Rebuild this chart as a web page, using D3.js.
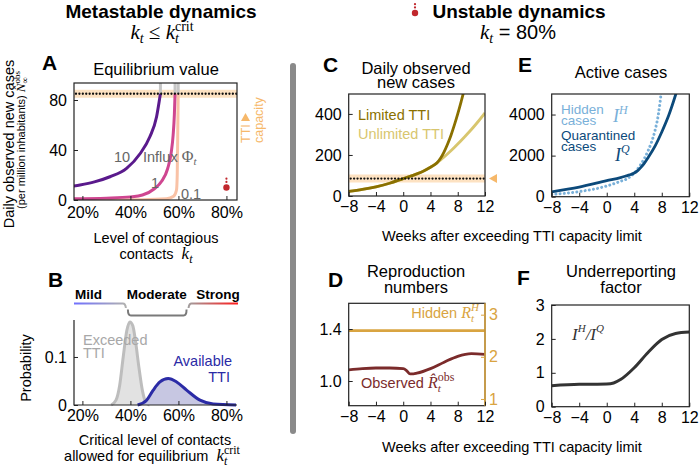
<!DOCTYPE html>
<html lang="en">
<head>
<meta charset="UTF-8">
<title>TTI capacity</title>
<script src="https://cdnjs.cloudflare.com/ajax/libs/d3/7.8.5/d3.min.js"></script>
<style>
  body { margin: 0; background: #fff; }
  svg { display: block; font-family: "Liberation Sans", Arial, sans-serif; }
  text { white-space: pre; }
</style>
</head>
<body>
<svg width="700" height="468"></svg>
<script>

// ---------- data ----------
// A: equilibrium observed cases vs level of contacts (k in %), one curve per influx
var influx10K = [16, 19, 25, 31.5, 38.4, 44, 48.1, 50.9, 52.3, 52.5];
var influx10N = [11, 12, 14.5, 18.6, 25.3, 37, 50.6, 66.6, 82.6, 85];
var influx1K = [16, 30, 40, 45, 50, 53, 55.5, 57, 57.8, 58.3, 58.6];
var influx1N = [1, 1.5, 2.5, 4, 9, 15, 25, 38, 52, 68, 85];
var influx01K = [16, 45, 55, 58, 59.2, 59.5, 59.7, 59.9];
var influx01N = [0.1, 0.3, 1, 3, 8, 20, 50, 85];
var ttiCapacity = 85;
var unstableK = 80, unstableN = 10;

// B: distribution of critical contact level (k in %)
var exceededK = [32, 34, 35.5, 37, 38.5, 39.8, 41, 42.2, 43.5, 45, 46.5, 48];
var exceededP = [0, 0.01, 0.04, 0.10, 0.155, 0.173, 0.165, 0.13, 0.08, 0.03, 0.005, 0];
var availableK = [43, 46.75, 49.5, 52.3, 55.75, 59.25, 63.4, 69, 74.5, 84];
var availableP = [0, 0.01, 0.031, 0.048, 0.055, 0.048, 0.031, 0.010, 0.002, 0];
var regimeEdges = [37.7, 63.8];   // Mild | Moderate | Strong

// C: daily observed new cases
var weeksC = [-8, -6, -4, -2, 0, 2, 3, 4, 4.5, 5, 5.5, 6, 6.5, 7, 7.5, 8, 8.5, 9, 9.5];
var limitedTTI = [22, 32, 45, 62, 85, 108, 122, 140, 150, 163, 185, 215, 252, 295, 345, 400, 460, 525, 600];
var weeksU = [-8, -6, -4, -2, 0, 2, 3, 4, 4.5, 5, 5.5, 6, 7, 8, 9, 10, 11, 12];
var unlimitedTTI = [22, 32, 45, 62, 85, 108, 122, 140, 151, 163, 176, 190, 220, 253, 288, 324, 363, 405];

// D: reproduction numbers
var weeksD = [-8, -6, -4, -2, 0, 0.5, 1, 1.5, 2, 4, 6, 8, 10, 12];
var observedR = [1.085, 1.095, 1.10, 1.10, 1.095, 1.08, 1.055, 1.055, 1.06, 1.095, 1.145, 1.19, 1.21, 1.205];
var hiddenR = 2.62;

// E: active cases
var weeksQ = [-8, -4, 0, 2, 3, 3.5, 4, 4.5, 5, 5.5, 6, 7, 8, 9, 10, 10.5];
var quarantined = [240, 470, 780, 930, 1030, 1080, 1150, 1270, 1440, 1650, 1900, 2450, 3150, 3950, 4950, 5500];
var weeksH = [-8, -4, 0, 2, 3, 3.5, 4, 4.5, 5, 5.5, 6, 6.5, 7, 7.5, 7.75, 8, 8.3];
var hidden = [110, 250, 520, 750, 880, 1000, 1150, 1350, 1600, 1880, 2230, 2650, 3200, 4000, 4600, 5300, 6000];

// F: underreporting factor
var weeksF = [-8, -4, 0, 1, 2, 4, 6, 8, 10, 12];
var ratioF = [0.62, 0.66, 0.67, 0.7, 0.8, 1.15, 1.6, 1.98, 2.16, 2.2];

var kTicks = [20, 40, 60, 80];
var weekTicks = [-8, -4, 0, 4, 8, 12];

// ---------- helpers ----------
var SERIF = '"Liberation Serif","DejaVu Serif",serif';
var svg = d3.select('svg');
svg.append('rect').attr('width', 700).attr('height', 468).attr('fill', '#fff');
var defs = svg.append('defs');
var minus = function (d) { return String(d).replace('-', '\u2212'); };

function txt(x, y, size, o) {
    o = o || {};
    var t = svg.append('text').attr('x', x).attr('y', y).attr('font-size', size)
        .attr('fill', o.fill || '#000').attr('text-anchor', o.anchor || 'start');
    if (o.bold) t.attr('font-weight', 'bold');
    if (o.rotate) t.attr('transform', 'rotate(-90,' + x + ',' + y + ')');
    return t;
}
function sp(t, s, o) {
    o = o || {};
    var e = t.append('tspan').text(s);
    if (o.serif) e.attr('font-family', SERIF);
    if (o.it) e.attr('font-style', 'italic');
    if (o.size) e.attr('font-size', o.size);
    if (o.dx) e.attr('dx', o.dx);
    if (o.dy) e.attr('dy', o.dy);
    if (o.fill) e.attr('fill', o.fill);
    return t;
}
function clip(id, x, y) {
    defs.append('clipPath').attr('id', id).append('rect')
        .attr('x', x.range()[0]).attr('y', y.range()[1])
        .attr('width', x.range()[1] - x.range()[0]).attr('height', y.range()[0] - y.range()[1]);
    return svg.append('g').attr('clip-path', 'url(#' + id + ')');
}
function frame(x, y) {
    svg.append('rect').attr('x', x.range()[0]).attr('y', y.range()[1])
        .attr('width', x.range()[1] - x.range()[0]).attr('height', y.range()[0] - y.range()[1])
        .attr('fill', 'none').attr('stroke', '#222').attr('stroke-width', 1.2);
}
function axis(gen, tx, ty, pad, fill) {
    if (!gen.tickFormat()) gen.tickFormat(minus);
    var g = svg.append('g').attr('transform', 'translate(' + tx + ',' + ty + ')')
        .call(gen.tickSizeInner(-4).tickSizeOuter(0).tickPadding(pad));
    g.attr('font-size', 16).attr('font-family', null);
    g.select('.domain').remove();
    g.selectAll('line').attr('stroke', fill || '#222');
    g.selectAll('text').attr('fill', fill || '#000');
    return g;
}
function line(x, y, xs, ys) {
    return d3.line().x(function (i) { return x(xs[i]); }).y(function (i) { return y(ys[i]); })
        .curve(d3.curveMonotoneX)(d3.range(xs.length));
}
function ttiLine(g, x, y) {
    g.append('line').attr('x1', x.range()[0]).attr('x2', x.range()[1])
        .attr('y1', y(ttiCapacity)).attr('y2', y(ttiCapacity))
        .attr('stroke', '#fde2c2').attr('stroke-width', 8);
}
function ttiDots(g, x, y) {
    g.append('line').attr('x1', x.range()[0] + 2).attr('x2', x.range()[1])
        .attr('y1', y(ttiCapacity)).attr('y2', y(ttiCapacity))
        .attr('stroke', '#111').attr('stroke-width', 2.3)
        .attr('stroke-linecap', 'round').attr('stroke-dasharray', '0.01 3.4');
}
function redIcon(cx, cy) {
    svg.append('circle').attr('cx', cx).attr('cy', cy).attr('r', 3.2).attr('fill', '#c1272d');
    [5.6, 8.8].forEach(function (d) {
        svg.append('circle').attr('cx', cx).attr('cy', cy - d).attr('r', 1.1).attr('fill', '#c1272d');
    });
}

// ---------- headers ----------
txt(161, 18, 19, { bold: true, anchor: 'middle' }).text('Metastable dynamics');
var h1 = txt(162, 39, 21, { anchor: 'middle' }).attr('font-family', SERIF);
sp(h1, 'k', { it: true }); sp(h1, 't', { it: true, size: 14, dy: 4 });
sp(h1, ' \u2264 ', { dy: -4 }); sp(h1, 'k', { it: true });
sp(h1, 't', { it: true, size: 14, dy: 4 }); sp(h1, 'crit', { size: 14, dx: -3.9, dy: -12 });

txt(519, 18, 19, { bold: true, anchor: 'middle' }).text('Unstable dynamics');
redIcon(415, 13);
var h2 = txt(518, 39, 20, { anchor: 'middle' });
sp(h2, 'k', { serif: true, it: true, size: 21 }); sp(h2, 't', { serif: true, it: true, size: 14, dy: 4 });
sp(h2, ' = 80%', { dy: -4 });

// separator
svg.append('rect').attr('x', 290).attr('y', 63).attr('width', 6).attr('height', 371)
    .attr('rx', 3).attr('fill', '#8a8a8a');

// ---------- panel A ----------
var xA = d3.scaleLinear().domain([16.5, 84.4]).range([74, 237]);
var yA = d3.scaleLinear().domain([0, 93.6]).range([200, 83]);
var gA = clip('clipA', xA, yA);
ttiLine(gA, xA, yA);
[influx10K, influx1K, influx01K].forEach(function (ks) {
    gA.append('line').attr('x1', xA(ks[ks.length - 1])).attr('x2', xA(ks[ks.length - 1]))
        .attr('y1', yA(93.6)).attr('y2', yA(ttiCapacity))
        .attr('stroke', '#c6c6c6').attr('stroke-width', 3);
});
gA.append('path').attr('d', line(xA, yA, influx01K, influx01N)).attr('fill', 'none')
    .attr('stroke', '#f9c2a6').attr('stroke-width', 3);
gA.append('path').attr('d', line(xA, yA, influx1K, influx1N)).attr('fill', 'none')
    .attr('stroke', '#cf4690').attr('stroke-width', 3);
gA.append('path').attr('d', line(xA, yA, influx10K, influx10N)).attr('fill', 'none')
    .attr('stroke', '#5a1a8c').attr('stroke-width', 3);
ttiDots(gA, xA, yA);
frame(xA, yA);
axis(d3.axisBottom(xA).tickValues(kTicks).tickFormat(function (d) { return d + '%'; }), 0, 200, 7);
axis(d3.axisLeft(yA).tickValues([0, 40, 80]), 74, 0, 7);
redIcon(xA(unstableK), yA(unstableN));

txt(42, 70, 21, { bold: true }).text('A');
txt(156, 75, 16.5, { anchor: 'middle' }).text('Equilibrium value');
txt(122, 162, 14.5, { anchor: 'middle', fill: '#666' }).text('10');
var inf = txt(143, 162, 14.5, { fill: '#666' });
sp(inf, 'Influx '); sp(inf, '\u03A6', { serif: true, size: 16 }); sp(inf, 't', { serif: true, it: true, size: 11, dy: 3 });
txt(155, 188, 14.5, { anchor: 'middle', fill: '#666' }).text('1');
txt(181, 199, 14.5, { fill: '#666' }).text('0.1');

// TTI capacity marker
txt(250, 143, 12.5, { rotate: true, fill: '#f6b86a' }).text('TTI');
txt(263, 143, 12.5, { rotate: true, fill: '#f6b86a' }).text('capacity');
svg.append('path').attr('d', 'M245.5,113 L250,121 L241,121 Z').attr('fill', '#f6b86a');

txt(14, 144, 14.5, { rotate: true, anchor: 'middle' }).text('Daily observed new cases');
var yl2 = txt(25, 140, 11, { rotate: true, anchor: 'middle' });
sp(yl2, '(per million inhabitants) ');
sp(yl2, 'N\u0302', { serif: true, it: true, size: 13 });
sp(yl2, 'obs', { serif: true, size: 9, dy: -5 });
sp(yl2, '\u221E', { serif: true, size: 9, dx: -12.5, dy: 8 });
txt(156, 243, 14.5, { anchor: 'middle' }).text('Level of contagious');
var xl = txt(156, 259, 14.5, { anchor: 'middle' });
sp(xl, 'contacts  '); sp(xl, 'k', { serif: true, it: true, size: 17 }); sp(xl, 't', { serif: true, it: true, size: 12, dy: 4 });

// ---------- panel B ----------
var xB = d3.scaleLinear().domain([16.5, 84.4]).range([74, 237]);
var yB = d3.scaleLinear().domain([0, 0.177]).range([405, 320]);
var area = function (ks, ps) {
    return d3.area().x(function (i) { return xB(ks[i]); }).y0(yB(0)).y1(function (i) { return yB(ps[i]); })
        .curve(d3.curveMonotoneX)(d3.range(ks.length));
};
svg.append('path').attr('d', area(exceededK, exceededP)).attr('fill', '#e2e2e2');
svg.append('path').attr('d', line(xB, yB, exceededK, exceededP)).attr('fill', 'none')
    .attr('stroke', '#bdbdbd').attr('stroke-width', 3);
svg.append('path').attr('d', area(availableK, availableP)).attr('fill', '#c7c7e2');
svg.append('path').attr('d', line(xB, yB, availableK, availableP)).attr('fill', 'none')
    .attr('stroke', '#2b2ba6').attr('stroke-width', 3);
svg.append('path').attr('d', 'M' + xB.range()[0] + ',' + yB.range()[1] + 'V' + yB(0) + 'H' + xB.range()[1])
    .attr('fill', 'none').attr('stroke', '#222').attr('stroke-width', 1.2);
axis(d3.axisBottom(xB).tickValues(kTicks).tickFormat(function (d) { return d + '%'; }), 0, 405, 5);
axis(d3.axisLeft(yB).tickValues([0, 0.1]), 74, 0, 7);

txt(48, 287, 21, { bold: true }).text('B');
txt(xB(22.5), 299, 13.5, { bold: true, anchor: 'middle' }).text('Mild');
txt(xB(51), 299, 13.5, { bold: true, anchor: 'middle' }).text('Moderate');
txt(xB(76.5), 299, 13.5, { bold: true, anchor: 'middle' }).text('Strong');
function grad(id, c0, c1, x0, x1) {
    var lg = defs.append('linearGradient').attr('id', id).attr('gradientUnits', 'userSpaceOnUse')
        .attr('x1', x0).attr('x2', x1).attr('y1', 0).attr('y2', 0);
    lg.append('stop').attr('offset', 0).attr('stop-color', c0);
    lg.append('stop').attr('offset', 1).attr('stop-color', c1);
}
var e0 = xB(regimeEdges[0]), e1 = xB(regimeEdges[1]), bl = xB.range()[0], br = xB.range()[1] + 1;
grad('gMild', '#7070ff', '#b0b0b0', bl, e0);
grad('gStrong', '#a0a0a0', '#ff1a1a', e1, br);
svg.append('path').attr('d', 'M' + bl + ',303.5H' + (e0 - 2) + 'Q' + (e0 + 0.5) + ',303.5 ' + (e0 + 1) + ',308')
    .attr('fill', 'none').attr('stroke', 'url(#gMild)').attr('stroke-width', 2);
svg.append('path').attr('d', 'M' + (e0 + 3) + ',309.5Q' + (e0 + 3) + ',315.5 ' + (e0 + 6) + ',315.5H' + (e1 - 4) +
    'Q' + (e1 - 1) + ',315.5 ' + (e1 - 1) + ',309.5')
    .attr('fill', 'none').attr('stroke', '#7a7a7a').attr('stroke-width', 2);
svg.append('path').attr('d', 'M' + (e1 + 1) + ',308Q' + (e1 + 1.5) + ',303.5 ' + (e1 + 4) + ',303.5H' + br)
    .attr('fill', 'none').attr('stroke', 'url(#gStrong)').attr('stroke-width', 2);

txt(83, 345, 14.5, { fill: '#a8a8a8' }).text('Exceeded');
txt(83, 358, 14.5, { fill: '#a8a8a8' }).text('TTI');
txt(232, 366, 14.5, { fill: '#2b2ba6', anchor: 'end' }).text('Available');
txt(230, 382, 14.5, { fill: '#2b2ba6', anchor: 'end' }).text('TTI');
txt(31, 368, 14.5, { rotate: true, anchor: 'middle' }).text('Probability');
txt(155, 445, 14.5, { anchor: 'middle' }).text('Critical level of contacts');
var xl2 = txt(152, 461, 14.5, { anchor: 'middle' });
sp(xl2, 'allowed for equilibrium  '); sp(xl2, 'k', { serif: true, it: true, size: 17 });
sp(xl2, 't', { serif: true, it: true, size: 12, dy: 4 }); sp(xl2, 'crit', { serif: true, size: 12, dx: -3.4, dy: -11 });

// ---------- panel C ----------
var xC = d3.scaleLinear().domain([-8, 12]).range([348.7, 485]);
var yC = d3.scaleLinear().domain([0, 497]).range([196, 94]);
var gC = clip('clipC', xC, yC);
ttiLine(gC, xC, yC);
gC.append('path').attr('d', line(xC, yC, weeksU, unlimitedTTI)).attr('fill', 'none')
    .attr('stroke', '#d8c66e').attr('stroke-width', 2.8);
gC.append('path').attr('d', line(xC, yC, weeksC, limitedTTI)).attr('fill', 'none')
    .attr('stroke', '#8a7000').attr('stroke-width', 2.8);
ttiDots(gC, xC, yC);
frame(xC, yC);
axis(d3.axisBottom(xC).tickValues(weekTicks), 0, 196, 5);
axis(d3.axisLeft(yC).tickValues([0, 200, 400]), 348.7, 0, 7);
svg.append('path').attr('d', 'M489,' + yC(ttiCapacity) + 'L497,' + (yC(ttiCapacity) - 4.5) + 'L497,' + (yC(ttiCapacity) + 4.5) + 'Z')
    .attr('fill', '#f6b86a');
txt(323, 72, 21, { bold: true }).text('C');
txt(416, 74, 16.5, { anchor: 'middle' }).text('Daily observed');
txt(416, 87.5, 16.5, { anchor: 'middle' }).text('new cases');
txt(358, 120, 14.5, { fill: '#8a7000' }).text('Limited TTI');
txt(358, 139, 14.5, { fill: '#d8c66e' }).text('Unlimited TTI');
txt(512, 241, 14.5, { anchor: 'middle' }).text('Weeks after exceeding TTI capacity limit');

// ---------- panel D ----------
var xD = d3.scaleLinear().domain([-8, 12]).range([348.7, 485]);
var yD = d3.scaleLinear().domain([0.81, 1.598]).range([405.7, 303.3]);
var yDr = d3.scaleLinear().domain([0.84, 3.27]).range([405.7, 303.3]);
var gD = clip('clipD', xD, yD);
gD.append('line').attr('x1', xD(-8)).attr('x2', xD(12)).attr('y1', yDr(hiddenR)).attr('y2', yDr(hiddenR))
    .attr('stroke', '#d9a441').attr('stroke-width', 2.8);
gD.append('path').attr('d', line(xD, yD, weeksD, observedR)).attr('fill', 'none')
    .attr('stroke', '#7b2b2b').attr('stroke-width', 2.8);
frame(xD, yD);
svg.append('line').attr('x1', 485).attr('x2', 485).attr('y1', 303.3).attr('y2', 405.7)
    .attr('stroke', '#d9a441').attr('stroke-width', 1.6);
axis(d3.axisBottom(xD).tickValues(weekTicks), 0, 405.7, 5);
axis(d3.axisLeft(yD).tickValues([1.0, 1.4]).tickFormat(d3.format('.1f')), 348.7, 0, 7);
axis(d3.axisRight(yDr).tickValues([1, 2, 3]), 485, 0, 4, '#d9a441');
txt(328, 287, 21, { bold: true }).text('D');
txt(416, 277, 16.5, { anchor: 'middle' }).text('Reproduction');
txt(416, 293, 16.5, { anchor: 'middle' }).text('numbers');
var hr = txt(479, 318, 14.5, { fill: '#d9a441', anchor: 'end' });
sp(hr, 'Hidden '); sp(hr, 'R', { serif: true, it: true, size: 16 });
sp(hr, 't', { serif: true, it: true, size: 11, dy: 4 }); sp(hr, 'H', { serif: true, it: true, size: 11, dx: -3, dy: -11 });
var orr = txt(361, 388, 14.5, { fill: '#7b2b2b' });
sp(orr, 'Observed '); sp(orr, 'R\u0302', { serif: true, it: true, size: 16 });
sp(orr, 't', { serif: true, it: true, size: 11, dy: 4 }); sp(orr, 'obs', { serif: true, size: 12, dx: -3, dy: -11 });
txt(512, 452, 14.5, { anchor: 'middle' }).text('Weeks after exceeding TTI capacity limit');

// ---------- panel E ----------
var xE = d3.scaleLinear().domain([-8, 12]).range([551.7, 689.3]);
var yE = d3.scaleLinear().domain([0, 5000]).range([196.7, 94]);
var gE = clip('clipE', xE, yE);
gE.append('path').attr('d', line(xE, yE, weeksH, hidden)).attr('fill', 'none')
    .attr('stroke', '#79b0d9').attr('stroke-width', 3).attr('stroke-linecap', 'round')
    .attr('stroke-dasharray', '0.01 4.2');
gE.append('path').attr('d', line(xE, yE, weeksQ, quarantined)).attr('fill', 'none')
    .attr('stroke', '#0c4a7b').attr('stroke-width', 2.8);
frame(xE, yE);
axis(d3.axisBottom(xE).tickValues(weekTicks), 0, 196.7, 5);
axis(d3.axisLeft(yE).tickValues([0, 2000, 4000]), 551.7, 0, 7);
txt(518, 72, 21, { bold: true }).text('E');
txt(621, 78, 16.5, { anchor: 'middle' }).text('Active cases');
txt(561, 113.5, 13.5, { fill: '#79b0d9' }).text('Hidden');
txt(561, 124.5, 13.5, { fill: '#79b0d9' }).text('cases');
var ih = txt(613, 122, 18, { fill: '#79b0d9' });
sp(ih, 'I', { serif: true, it: true }); sp(ih, 'H', { serif: true, it: true, size: 12, dy: -8 });
txt(561, 139.5, 13.5, { fill: '#0c4a7b' }).text('Quarantined');
txt(561, 150.5, 13.5, { fill: '#0c4a7b' }).text('cases');
var iq = txt(615, 161, 18, { fill: '#0c4a7b' });
sp(iq, 'I', { serif: true, it: true }); sp(iq, 'Q', { serif: true, it: true, size: 12, dy: -8 });

// ---------- panel F ----------
var xF = d3.scaleLinear().domain([-8, 12]).range([551.7, 689.3]);
var yF = d3.scaleLinear().domain([0, 3]).range([406.7, 305]);
var gF = clip('clipF', xF, yF);
gF.append('path').attr('d', line(xF, yF, weeksF, ratioF)).attr('fill', 'none')
    .attr('stroke', '#333').attr('stroke-width', 3);
frame(xF, yF);
axis(d3.axisBottom(xF).tickValues(weekTicks), 0, 406.7, 5);
axis(d3.axisLeft(yF).tickValues([0, 1, 2, 3]), 551.7, 0, 7);
txt(517, 285, 21, { bold: true }).text('F');
txt(621, 277, 16.5, { anchor: 'middle' }).text('Underreporting');
txt(621, 293, 16.5, { anchor: 'middle' }).text('factor');
var ratio = txt(572, 340, 17, { fill: '#333' }).attr('font-family', SERIF).attr('font-style', 'italic');
sp(ratio, 'I'); sp(ratio, 'H', { size: 11, dy: -8 }); sp(ratio, '/I', { dy: 8 }); sp(ratio, 'Q', { size: 11, dy: -8 });

</script>
</body>
</html>
